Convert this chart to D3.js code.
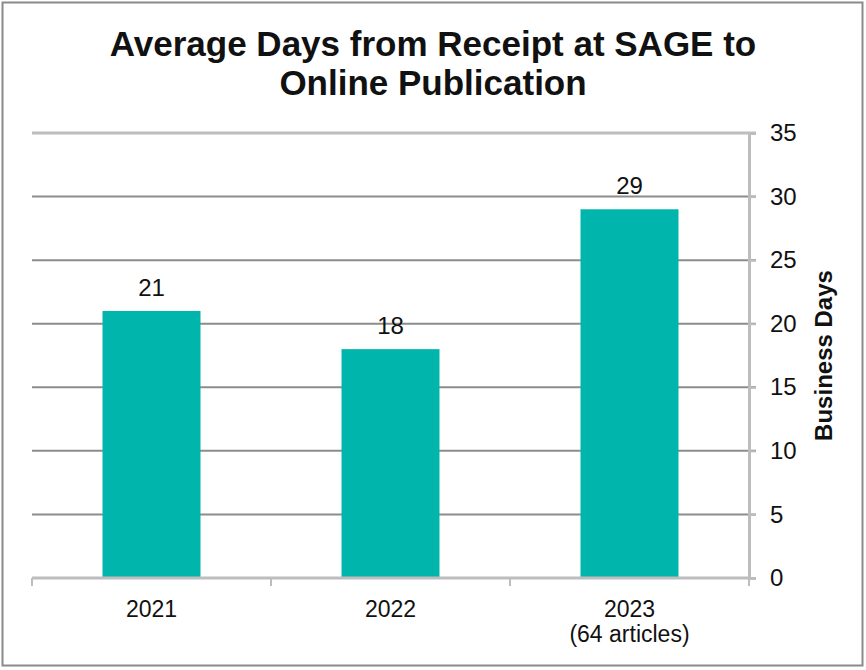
<!DOCTYPE html>
<html>
<head>
<meta charset="utf-8">
<script src="https://cdn.jsdelivr.net/npm/d3@7"></script>
<style>
  body { margin: 0; background: #fff; }
  svg text { font-family: "Liberation Sans", Arial, sans-serif; fill: #111; }
</style>
</head>
<body>
<div id="chart"></div>
<script>
const years = ["2021", "2022", "2023"];
const subLabels = ["", "", "(64 articles)"];
const avgDays = [21, 18, 29];
const yTicks = [0, 5, 10, 15, 20, 25, 30, 35];

const svg_width = 866, svg_height = 670;
const svg = d3.select("#chart").append("svg")
  .attr("width", svg_width)
  .attr("height", svg_height);

// outer frame
svg.append("rect")
  .attr("x", 2.5).attr("y", 2.5)
  .attr("width", 860).attr("height", 663)
  .attr("fill", "#fff")
  .attr("stroke", "#8a8a8a")
  .attr("stroke-width", 2);

const margin = {top: 133, right: 117, bottom: 92, left: 32};
const chart_width = svg_width - margin.left - margin.right;
const chart_height = svg_height - margin.top - margin.bottom;

const g = svg.append("g")
  .attr("transform", "translate(" + margin.left + "," + margin.top + ")");

const x = d3.scaleBand()
  .domain(years)
  .range([0, chart_width])
  .paddingInner(0.59)
  .paddingOuter(0.295);

const y = d3.scaleLinear()
  .domain([0, 35])
  .range([chart_height, 0]);

// gridlines
g.append("g").selectAll("line")
  .data(yTicks.filter(d => d > 0))
  .enter().append("line")
    .attr("x1", 0)
    .attr("x2", chart_width + 7)
    .attr("y1", d => y(d))
    .attr("y2", d => y(d))
    .attr("stroke", d => d === 35 ? "#bdbdbd" : "#8c8c8c")
    .attr("stroke-width", d => d === 35 ? 3 : 2);

// bars
g.append("g").selectAll("rect")
  .data(avgDays)
  .enter().append("rect")
    .attr("x", (d, i) => x(years[i]))
    .attr("y", d => y(d))
    .attr("width", x.bandwidth())
    .attr("height", d => chart_height - y(d))
    .attr("fill", "#00b5ab");

// value labels
g.append("g").selectAll("text")
  .data(avgDays)
  .enter().append("text")
    .attr("x", (d, i) => x(years[i]) + x.bandwidth() / 2)
    .attr("y", d => y(d) - 15)
    .attr("text-anchor", "middle")
    .style("font-size", "24px")
    .text(d => d);

// right axis
const yAxis = g.append("g")
  .attr("transform", "translate(" + chart_width + ",0)")
  .call(d3.axisRight(y).tickValues(yTicks).tickSize(7).tickPadding(14));
yAxis.select(".domain").attr("stroke", "#bdbdbd").attr("stroke-width", 3);
yAxis.selectAll(".tick line").attr("stroke", "#bdbdbd").attr("stroke-width", 2);
yAxis.selectAll(".tick text")
  .style("font-size", "24px")
  .style("font-family", "Liberation Sans, Arial, sans-serif")
  .attr("fill", "#111");

// bottom axis
const step = chart_width / years.length;
const xAxis = g.append("g")
  .attr("transform", "translate(0," + chart_height + ")");
xAxis.append("line")
  .attr("x1", 0).attr("x2", chart_width)
  .attr("stroke", "#bdbdbd").attr("stroke-width", 3);
xAxis.selectAll("line.tk")
  .data(d3.range(years.length + 1))
  .enter().append("line")
    .attr("class", "tk")
    .attr("x1", d => d * step).attr("x2", d => d * step)
    .attr("y1", 0).attr("y2", 8)
    .attr("stroke", "#bdbdbd").attr("stroke-width", 2);
xAxis.selectAll("text.year")
  .data(years)
  .enter().append("text")
    .attr("class", "year")
    .attr("x", d => x(d) + x.bandwidth() / 2)
    .attr("y", 39)
    .attr("text-anchor", "middle")
    .style("font-size", "23px")
    .text(d => d);
xAxis.selectAll("text.sub")
  .data(subLabels)
  .enter().append("text")
    .attr("class", "sub")
    .attr("x", (d, i) => x(years[i]) + x.bandwidth() / 2)
    .attr("y", 64)
    .attr("text-anchor", "middle")
    .style("font-size", "23px")
    .text(d => d);

// axis title
svg.append("text")
  .attr("transform", "translate(832," + (margin.top + chart_height / 2) + ") rotate(-90)")
  .attr("text-anchor", "middle")
  .style("font-size", "24px")
  .style("font-weight", "bold")
  .text("Business Days");

// chart title
const title = svg.append("text")
  .attr("x", 433)
  .attr("text-anchor", "middle")
  .style("font-size", "35px")
  .style("font-weight", "bold");
title.append("tspan").attr("x", 433).attr("y", 56).text("Average Days from Receipt at SAGE to");
title.append("tspan").attr("x", 433).attr("y", 95).text("Online Publication");
</script>
</body>
</html>
